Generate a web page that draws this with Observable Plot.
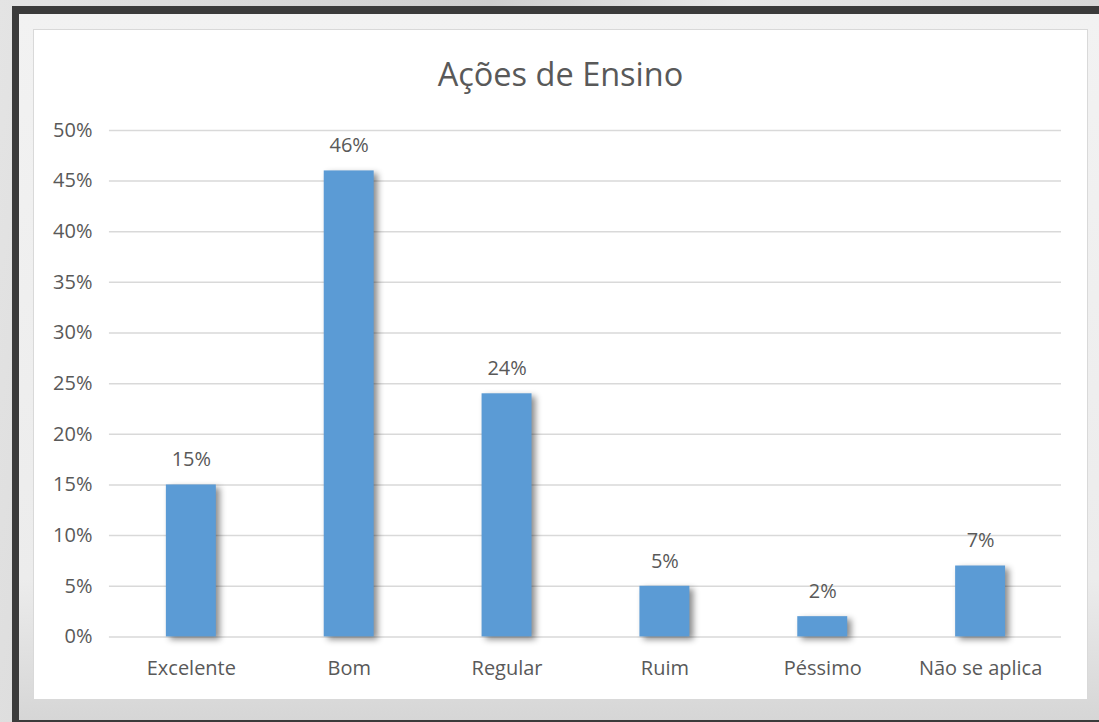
<!DOCTYPE html>
<html>
<head>
<meta charset="utf-8">
<script src="https://cdn.jsdelivr.net/npm/d3@7"></script>
<script src="https://cdn.jsdelivr.net/npm/@observablehq/plot@0.6"></script>
<style>
  html, body { margin: 0; padding: 0; }
  body {
    width: 1099px; height: 722px; overflow: hidden; position: relative;
    background: linear-gradient(100deg, #e4e4e4 0%, #cfcfcf 40%, #e8e8e8 60%, #d2d2d2 100%);
    font-family: "Open Sans", sans-serif;
  }
  #frame {
    position: absolute; left: 12px; top: 6px; width: 1100px; height: 706px;
    border-left: 7px solid #3b3b3b; border-top: 8px solid #3b3b3b; border-bottom: 3px solid #3b3b3b;
    background: linear-gradient(180deg, #f2f2f2 0%, #ececec 80%, #d6d6d6 100%);
  }
  #chart {
    position: absolute; left: 33px; top: 29px; width: 1055px; height: 671px;
    background: #ffffff; box-sizing: border-box; border: 1px solid #d9d9d9;
  }
  #title {
    position: absolute; left: 0; top: 22px; width: 100%; text-align: center;
    font-size: 32.5px; color: #595959; line-height: 44px;
  }
  #plot { position: absolute; left: -1px; top: -1px; }
</style>
</head>
<body>
<div id="frame"></div>
<div id="chart">
  <div id="plot"></div>
  <div id="title">Ações de Ensino</div>
</div>
<script>
const categories = ["Excelente", "Bom", "Regular", "Ruim", "Péssimo", "Não se aplica"];
const values = [0.15, 0.46, 0.24, 0.05, 0.02, 0.07];
const yTicks = [0, 0.05, 0.10, 0.15, 0.20, 0.25, 0.30, 0.35, 0.40, 0.45, 0.50];

const data = categories.map((c, i) => ({category: c, value: values[i]}));

const chart = Plot.plot({
  width: 1055,
  height: 671,
  marginLeft: 76,
  marginRight: 26,
  marginTop: 101,
  marginBottom: 63,
  style: {fontFamily: "Open Sans, sans-serif", fontSize: "20px", color: "#595959", background: "transparent"},
  x: {domain: categories, paddingInner: 0.685, paddingOuter: 0.3425, label: null},
  y: {domain: [0, 0.5], label: null},
  marks: [
    Plot.gridY(yTicks, {stroke: "#d9d9d9", strokeOpacity: 1, strokeWidth: 1.5}),
    Plot.axisY(yTicks, {tickSize: 0, tickPadding: 17, tickFormat: d => Math.round(d * 100) + "%", fill: "#595959", fontSize: 20}),
    Plot.axisX({tickSize: 0, tickPadding: 24, fill: "#595959", fontSize: 20}),
    Plot.barY(data, {x: "category", y: "value", fill: "#5b9bd5"}),
    Plot.text(data, {x: "category", y: "value", text: d => Math.round(d.value * 100) + "%", dy: -25, fill: "#595959", fontSize: 20})
  ]
});
document.getElementById("plot").appendChild(chart);
d3.select(chart).selectAll("g[aria-label='bar']").style("filter", "drop-shadow(4px 3px 3px rgba(0,0,0,0.45))");
</script>
</body>
</html>
